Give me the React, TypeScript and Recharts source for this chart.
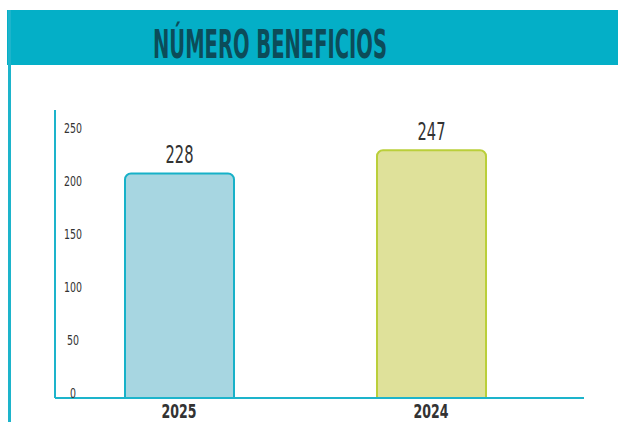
import React from "react";
import { BarChart, Bar, XAxis, YAxis, Cell, LabelList } from "recharts";

const categories = ["2025", "2024"];
const barHeights = [212, 234];
const valueLabels = ["228", "247"];
const yTicks = [0, 50, 100, 150, 200, 250];
const title = "NÚMERO BENEFICIOS";

const fills = ["#A7D6E1", "#DFE19A"];
const strokes = ["#17B1C8", "#BACF3A"];
const TEAL = "#04AFC7";
const AXIS = "#1DB4CB";
const FONT = "'Liberation Sans Narrow', 'DejaVu Sans Condensed', 'Roboto', sans-serif";

const data = categories.map((c, i) => ({ year: c, height: barHeights[i], label: valueLabels[i] }));

const YTick = (props: any) => {
  const { x, y, payload } = props;
  const s = String(payload.value);
  return (
    <text x={x + 18} y={y - 5} textAnchor="middle" dominantBaseline="central" fontSize={14} fill="#333" fontFamily={FONT} textLength={s.length * 6} lengthAdjust="spacingAndGlyphs">
      {s}
    </text>
  );
};

const XTick = (props: any) => {
  const { x, y, payload } = props;
  const s = String(payload.value);
  return (
    <text x={x} y={y + 13} textAnchor="middle" dominantBaseline="central" fontSize={19} fontWeight="bold" fill="#333" fontFamily={FONT} textLength={s.length * 8.75} lengthAdjust="spacingAndGlyphs">
      {s}
    </text>
  );
};

const ValueLabel = (props: any) => {
  const { x, y, width, value } = props;
  return (
    <text x={x + width / 2} y={y - 19} textAnchor="middle" dominantBaseline="central" fontSize={25} fill="#333" fontFamily={FONT} textLength={28} lengthAdjust="spacingAndGlyphs">
      {value}
    </text>
  );
};

export default function App() {
  return (
    <div style={{ position: "absolute", left: 0, top: 0, width: 618, height: 432, background: "#fff" }}>
      <div style={{ position: "absolute", left: 7, top: 10, width: 611, height: 55, background: TEAL }} />
      <div style={{ position: "absolute", left: 8, top: 10, width: 3, height: 422, background: AXIS }} />
      <svg width={618} height={70} style={{ position: "absolute", left: 0, top: 0 }}>
        <text x={270} y={58} textAnchor="middle" fontSize={39} fontWeight="bold" fill="#0C4C59" fontFamily={FONT} textLength={234} lengthAdjust="spacingAndGlyphs">
          {title}
        </text>
      </svg>
      <div style={{ position: "absolute", left: 0, top: 0 }}>
        <BarChart width={618} height={432} data={data} margin={{ top: 110, right: 34, bottom: 10, left: 0 }}>
          <YAxis
            width={55}
            domain={[0, 272]}
            ticks={yTicks}
            tick={<YTick />}
            tickLine={false}
            tickSize={0}
            tickMargin={0}
            axisLine={{ stroke: AXIS, strokeWidth: 2 }}
            interval={0}
            allowDataOverflow
          />
          <XAxis
            dataKey="year"
            height={24}
            padding={{ left: -2, right: 27 }}
            tick={<XTick />}
            tickLine={false}
            tickSize={0}
            tickMargin={0}
            axisLine={{ stroke: AXIS, strokeWidth: 2 }}
            interval={0}
          />
          <Bar dataKey="height" barSize={109} radius={[6, 6, 0, 0]} strokeWidth={2} isAnimationActive={false}>
            {data.map((d, i) => (
              <Cell key={d.year} fill={fills[i]} stroke={strokes[i]} />
            ))}
            <LabelList dataKey="label" content={<ValueLabel />} />
          </Bar>
        </BarChart>
      </div>
    </div>
  );
}
